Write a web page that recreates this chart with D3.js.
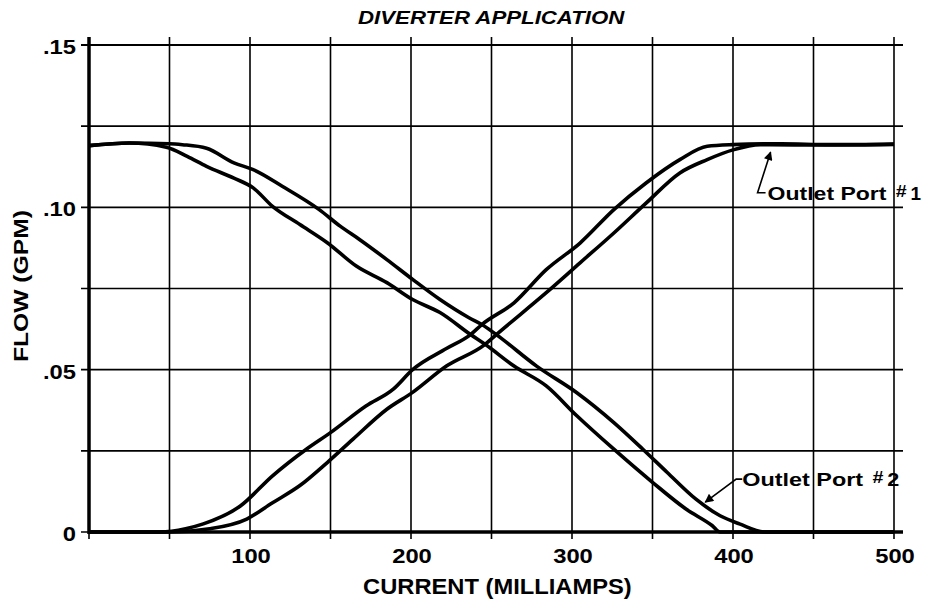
<!DOCTYPE html>
<html>
<head>
<meta charset="utf-8">
<script src="https://cdn.jsdelivr.net/npm/d3@7"></script>
<style>
  body { margin: 0; background: #fff; }
  text { font-family: "Liberation Sans", Arial, sans-serif; font-weight: bold; fill: #000; }
</style>
</head>
<body>
<script>
var svgWidth = 927;
var svgHeight = 603;

var margin = { top: 45, right: 33, bottom: 71, left: 89 };
var width = svgWidth - margin.left - margin.right;
var height = svgHeight - margin.top - margin.bottom;

// tick labels
var xTickLabels = [100, 200, 300, 400, 500];
var yTickLabels = [0, 0.05, 0.10, 0.15];
var xGrid = [0, 50, 100, 150, 200, 250, 300, 350, 400, 450, 500];
var yGrid = [0, 0.025, 0.05, 0.075, 0.10, 0.125, 0.15];

// Outlet Port #1 - rising branches (current in mA, flow in GPM)
var port1Outer = [[0, 0], [44, 0], [60, 0.001], [71, 0.0025], [94, 0.008], [114, 0.0173], [135, 0.0255],
  [150, 0.0306], [172, 0.0388], [189, 0.044], [201, 0.05], [222, 0.0565], [237, 0.0608], [244, 0.0639],
  [264, 0.0706], [284, 0.0808], [305, 0.089], [326, 0.0993], [346, 0.1075], [367, 0.1147], [384, 0.1188],
  [400, 0.1193], [430, 0.1196], [460, 0.1193], [500, 0.1195]];
var port1Inner = [[0, 0], [50, 0], [75, 0.001], [98, 0.004], [114, 0.009], [131, 0.0143], [148, 0.0214],
  [164, 0.0286], [185, 0.0378], [201, 0.043], [222, 0.0511], [246, 0.0578], [253, 0.0608], [284, 0.0737],
  [305, 0.0829], [326, 0.0921], [346, 0.1013], [367, 0.1106], [384, 0.1147], [400, 0.1177], [417, 0.1193],
  [460, 0.1192], [500, 0.1194]];

// Outlet Port #2 - falling branches
var port2Outer = [[0, 0.119], [25, 0.1198], [50, 0.1196], [58, 0.1193], [73, 0.1182], [90, 0.1137],
  [102, 0.1116], [120, 0.1065], [143, 0.0993], [156, 0.0942], [168, 0.0901], [185, 0.0839], [201, 0.0778],
  [218, 0.0716], [236, 0.066], [244, 0.0639], [253, 0.0608], [278, 0.0511], [303, 0.0429], [326, 0.0337],
  [344, 0.0255], [359, 0.0184], [377, 0.0101], [392, 0.005], [404, 0.0025], [420, 0], [500, 0]];
var port2Inner = [[0, 0.119], [25, 0.1198], [48, 0.1185], [61, 0.1157], [73, 0.1126], [90, 0.109],
  [102, 0.106], [114, 0.1003], [131, 0.0947], [148, 0.0891], [166, 0.0819], [185, 0.0768], [201, 0.0716],
  [218, 0.0676], [237, 0.0608], [246, 0.0578], [264, 0.0511], [284, 0.045], [303, 0.0358], [326, 0.0255],
  [350, 0.0153], [371, 0.007], [387, 0.002], [392, 0], [500, 0]];

var svg = d3.select("body")
  .append("svg")
  .attr("width", svgWidth)
  .attr("height", svgHeight);

var chart = svg.append("g")
  .attr("transform", "translate(" + margin.left + "," + margin.top + ")");

var x = d3.scaleLinear().domain([0, 500]).range([0, width]);
var y = d3.scaleLinear().domain([0, 0.15]).range([height, 0]);

// the original lettering is an extended bold face, so stretch text sideways
function wideText(parent, px, py, str, size, sx, anchor) {
  return parent.append("text")
    .attr("transform", "translate(" + px + "," + py + ") scale(" + sx + ",1)")
    .attr("text-anchor", anchor || "start")
    .style("font-size", size + "px")
    .text(str);
}
// stretch text so that it spans a given width
function fitText(parent, px, py, str, size, w, rot) {
  var t = parent.append("text").style("font-size", size + "px").text(str);
  var sx = w / t.node().getComputedTextLength();
  t.attr("transform", "translate(" + px + "," + py + ")" + (rot ? " rotate(" + rot + ")" : "") +
    " scale(" + sx + ",1)");
  return t;
}

// grid lines, running a little past the frame like tick marks
chart.selectAll(".vgrid")
  .data(xGrid)
  .enter().append("line")
  .attr("x1", d => x(d)).attr("x2", d => x(d))
  .attr("y1", y(0.15) - 8).attr("y2", y(0) + 7)
  .attr("stroke", "#000").attr("stroke-width", 1.6);

chart.selectAll(".hgrid")
  .data(yGrid)
  .enter().append("line")
  .attr("x1", x(0) - 8).attr("x2", x(500) + 9)
  .attr("y1", d => y(d)).attr("y2", d => y(d))
  .attr("stroke", "#000").attr("stroke-width", d => d == 0.15 ? 2.2 : 1.6);

// heavy axes
chart.append("line")
  .attr("x1", x(0)).attr("x2", x(0))
  .attr("y1", y(0.15) - 8).attr("y2", y(0) + 2)
  .attr("stroke", "#000").attr("stroke-width", 3.5);
chart.append("line")
  .attr("x1", x(0) - 1).attr("x2", x(500) + 9)
  .attr("y1", y(0)).attr("y2", y(0))
  .attr("stroke", "#000").attr("stroke-width", 3.5);

// curves
var line = d3.line()
  .x(d => x(d[0]))
  .y(d => y(d[1]))
  .curve(d3.curveMonotoneX);

chart.selectAll(".curve")
  .data([port1Outer, port1Inner, port2Outer, port2Inner])
  .enter().append("path")
  .attr("d", line)
  .attr("fill", "none")
  .attr("stroke", "#000")
  .attr("stroke-width", 3.6)
  .attr("stroke-linejoin", "round");

// tick labels
xTickLabels.forEach(function(d) {
  wideText(chart, x(d) + 1, y(0) + 31, d, 19.5, 1.22, "middle");
});
yTickLabels.forEach(function(d) {
  var s = d == 0 ? "0" : d3.format(".2f")(d).replace(/^0/, "");
  wideText(chart, -13, y(d) + 9, s, 19.5, 1.22, "end");
});

// titles
fitText(svg, 358, 24, "DIVERTER APPLICATION", 17.5, 267).style("font-style", "italic");
fitText(svg, 363, 594, "CURRENT (MILLIAMPS)", 21.5, 269);
fitText(svg, 28, 362, "FLOW (GPM)", 20.5, 152, -90);

// annotations
svg.append("defs").append("marker")
  .attr("id", "arrow")
  .attr("viewBox", "0 0 10 10")
  .attr("refX", 9).attr("refY", 5)
  .attr("markerWidth", 7.5).attr("markerHeight", 5.5)
  .attr("markerUnits", "strokeWidth")
  .attr("orient", "auto")
  .append("path").attr("d", "M0,0 L10,5 L0,10 z").attr("fill", "#000");

// port 1 label
var p1x = margin.left + x(416.5), p1y = margin.top + y(0.1045);
svg.append("path")
  .attr("d", "M" + (p1x + 6) + "," + p1y + " L" + (p1x - 2) + "," + p1y +
    " L" + (p1x + 11) + "," + (margin.top + y(0.117)))
  .attr("fill", "none").attr("stroke", "#000").attr("stroke-width", 1.6)
  .attr("marker-end", "url(#arrow)");
fitText(svg, p1x + 8, p1y + 7, "Outlet Port", 18, 119);
wideText(svg, p1x + 136, p1y + 4, "#", 17, 1.15).style("font-style", "italic");
wideText(svg, p1x + 151, p1y + 7, "1", 18, 1.05);

// port 2 label
var p2x = margin.left + x(402), p2y = margin.top + y(0.0163);
svg.append("path")
  .attr("d", "M" + (p2x + 6) + "," + p2y + " L" + p2x + "," + p2y +
    " L" + (p2x - 31) + "," + (margin.top + y(0.0092)))
  .attr("fill", "none").attr("stroke", "#000").attr("stroke-width", 1.6)
  .attr("marker-end", "url(#arrow)");
fitText(svg, p2x + 6, p2y + 7, "Outlet Port", 18, 121);
wideText(svg, p2x + 136, p2y + 4, "#", 17, 1.15).style("font-style", "italic");
wideText(svg, p2x + 151, p2y + 7, "2", 18, 1.2);
</script>
</body>
</html>
